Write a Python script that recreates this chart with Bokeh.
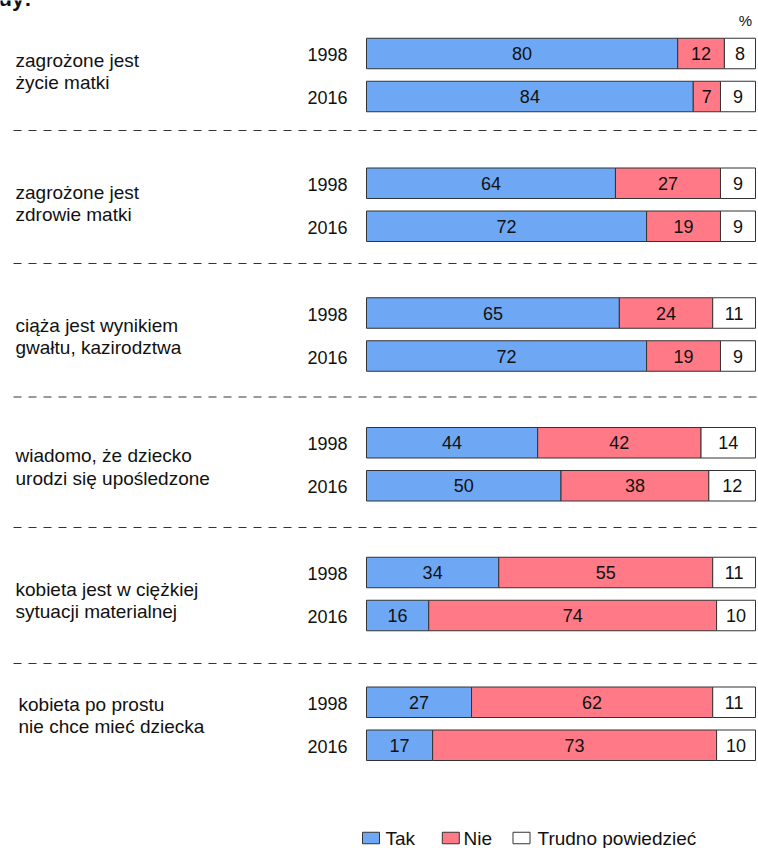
import numpy as np
from bokeh.plotting import figure
from bokeh.models import Range1d, ColumnDataSource
from bokeh.core.properties import value
from bokeh.embed import file_html
from bokeh.resources import INLINE

# ---- data ----
title_tail = "dy:"
categories = [
    "zagrożone jest\nżycie matki",
    "zagrożone jest\nzdrowie matki",
    "ciąża jest wynikiem\ngwałtu, kazirodztwa",
    "wiadomo, że dziecko\nurodzi się upośledzone",
    "kobieta jest w ciężkiej\nsytuacji materialnej",
    "kobieta po prostu\nnie chce mieć dziecka",
]
years = ["1998", "2016"]
tak_1998 = [80, 64, 65, 44, 34, 27]
nie_1998 = [12, 27, 24, 42, 55, 62]
trudno_1998 = [8, 9, 11, 14, 11, 11]
tak_2016 = [84, 72, 72, 50, 16, 17]
nie_2016 = [7, 19, 19, 38, 74, 73]
trudno_2016 = [9, 9, 9, 12, 10, 10]
series_names = ["Tak", "Nie", "Trudno powiedzieć"]
colors = ["#6EA8F4", "#FF7A86", "#FFFFFF"]

# ---- layout (screen px helpers) ----
W, H = 758, 848
X0PX, PXPER = 366.0, 3.89          # screen x of 0 %, px per percent
def px(x):
    return (x - X0PX) / PXPER

FONT = value("Liberation Sans")
group_top = 53.0      # y center of first 1998 bar
group_step = 129.75
row_step = 43.0
bar_h = 30.5
sep_y = [130, 263, 396.5, 527, 663]
cat_x = [15, 15, 15, 15, 15, 18]
cat_y = [70.7, 203.2, 335.7, 466.5, 599.8, 714.8]

p = figure(width=W, height=H, output_backend="svg", toolbar_location=None,
           x_range=Range1d(px(0), px(W)), y_range=Range1d(H, 0),
           min_border=0, outline_line_color=None)
p.axis.visible = False
p.grid.visible = False

rows = []
for i in range(len(categories)):
    rows.append((group_top + i * group_step, years[0], tak_1998[i], nie_1998[i], trudno_1998[i]))
    rows.append((group_top + i * group_step + row_step, years[1], tak_2016[i], nie_2016[i], trudno_2016[i]))

ys = np.array([r[0] for r in rows])
vals = np.array([[r[2], r[3], r[4]] for r in rows], dtype=float)
cum = np.cumsum(vals, axis=1)
lefts = cum - vals

for k in range(3):
    src = ColumnDataSource(dict(y=ys, left=lefts[:, k], right=cum[:, k],
                                mid=(lefts[:, k] + cum[:, k]) / 2,
                                lab=[str(int(v)) for v in vals[:, k]]))
    p.hbar(y="y", left="left", right="right", height=bar_h, source=src,
           fill_color=colors[k], line_color="#333333", line_width=1)
    p.text(x="mid", y="y", text="lab", source=src, text_align="center",
           text_baseline="middle", text_font=FONT, text_font_size="18px",
           text_color="#111111")

# year labels
p.text(x=[px(347)] * len(rows), y=ys + 1, text=[r[1] for r in rows],
       text_align="right", text_baseline="middle", text_font=FONT,
       text_font_size="18px", text_color="#111111")

# category labels
p.text(x=[px(v) for v in cat_x], y=cat_y, text=categories,
       text_align="left", text_baseline="middle", text_font=FONT,
       text_font_size="19px", text_line_height=1.05, text_color="#111111")

# separators
p.segment(x0=[px(13)] * len(sep_y), x1=[px(756)] * len(sep_y), y0=sep_y, y1=sep_y,
          line_color="#333333", line_width=1, line_dash="8 7")

# cut-off title remnant at the top-left (as in the source image)
p.text(x=[px(-2)], y=[-2], text=[title_tail], text_align="left",
       text_baseline="alphabetic", text_font=FONT, text_font_size="22px",
       text_font_style="bold", text_color="#111111")

# percent sign
p.text(x=[px(745)], y=[20], text=["%"], text_align="center", text_baseline="middle",
       text_font=FONT, text_font_size="15px", text_color="#111111")

# legend
leg_sq_x = [370.5, 450.3, 521]
leg_tx_x = [385, 463, 537]
p.rect(x=[px(v) for v in leg_sq_x], y=[837.5] * 3, width=17 / PXPER, height=11.5,
       fill_color=colors, line_color="#333333", line_width=1)
p.text(x=[px(v) for v in leg_tx_x], y=[838] * 3, text=series_names,
       text_align="left", text_baseline="middle", text_font=FONT,
       text_font_size="19px", text_color="#111111")

open("out.html", "w").write(file_html(p, INLINE))
